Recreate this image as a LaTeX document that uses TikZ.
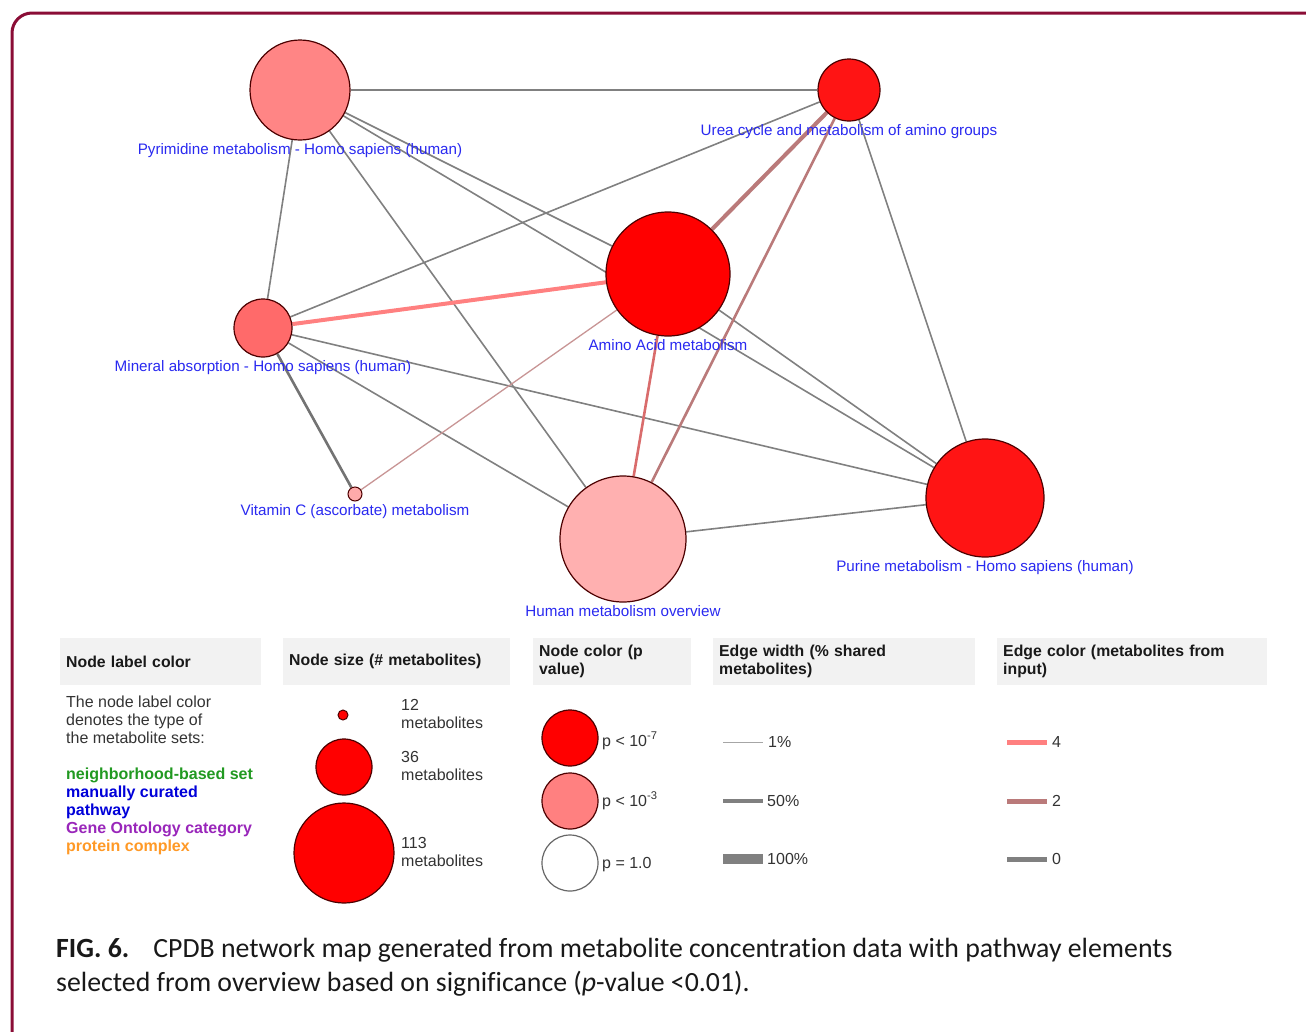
\documentclass[tikz,border=0pt]{standalone}
\usepackage{fontspec}
\setmainfont{Liberation Sans}
\newfontfamily\capfont[Ligatures=NoCommon]{Carlito}
\usetikzlibrary{backgrounds}
\colorlet{ecol}{black!50!white}
\definecolor{colR}{rgb}{1,.5,.5}
\definecolor{colB}{rgb}{.73,.48,.48}
\definecolor{lblcol}{rgb}{.16,.16,.94}
\definecolor{framecol}{rgb}{.54,.05,.21}
\definecolor{hdrcol}{gray}{.95}
\definecolor{txtcol}{gray}{.2}
\definecolor{grn}{rgb}{.13,.6,.13}
\definecolor{prp}{rgb}{.6,.15,.73}
\definecolor{org}{rgb}{1,.6,.15}
\tikzstyle{vertex}=[circle, draw=black!70!red, line width=1.2pt, inner sep=0pt]
\tikzstyle{lbl}=[text=lblcol, font=\fontsize{15.2}{16}\selectfont, inner sep=0pt, yshift=-3pt]
\tikzstyle{edge}=[line width=1.6pt,ecol]
\tikzstyle{redge}=[edge,colR]
\tikzstyle{bedge}=[edge,colB]
\tikzstyle{hdr}=[fill=hdrcol, anchor=north west, minimum height=47pt, inner xsep=6pt, align=left, font=\fontsize{15.8}{18}\selectfont\bfseries, text=black!90]
\tikzstyle{body}=[inner sep=0pt, text=txtcol, font=\fontsize{16}{18}\selectfont]

\begin{document}
\begin{tikzpicture}[x=1pt,y=-1pt]
		\useasboundingbox (0,0) rectangle (1306,1031);
		\draw[framecol, line width=3pt, rounded corners=20pt] (12,1040) -- (12,13) -- (1310,13);
		% network
		\node[vertex, fill={rgb,255:red,255;green,133;blue,133}, minimum size=100pt, label={[lbl]below:Pyrimidine metabolism - Homo sapiens (human)}] (pyr) at (300,90) {};
		\node[vertex, fill={rgb,255:red,255;green,20;blue,20}, minimum size=62pt, label={[lbl]below:Urea cycle and metabolism of amino groups}] (urea) at (849,90) {};
		\node[vertex, fill=red, minimum size=124pt, label={[lbl]below:Amino Acid metabolism}] (aa) at (668,274) {};
		\node[vertex, fill={rgb,255:red,255;green,106;blue,106}, minimum size=58pt, label={[lbl]below:Mineral absorption - Homo sapiens (human)}] (mine) at (263,328) {};
		\node[vertex, fill={rgb,255:red,255;green,170;blue,170}, minimum size=14pt, line width=1pt, label={[lbl]below:Vitamin C (ascorbate) metabolism}] (vitc) at (355,494) {};
		\node[vertex, fill={rgb,255:red,255;green,176;blue,176}, minimum size=126pt, label={[lbl]below:Human metabolism overview}] (hum) at (623,539) {};
		\node[vertex, fill={rgb,255:red,255;green,20;blue,20}, minimum size=118pt, label={[lbl]below:Purine metabolism - Homo sapiens (human)}] (pur) at (985,498) {};
		\begin{pgfonlayer}{background}
		\draw[edge] (pyr)edge(urea) (pyr)edge(mine) (pyr)edge(hum) (pyr)edge(aa) (pyr.center)edge(pur)
		            (urea)edge(mine) (urea)edge(pur) (aa)edge(pur) (mine)edge(hum) (mine)edge(pur) (hum)edge(pur) ;
		\draw[edge, line width=2.6pt, black!55] (mine)--(vitc);
		\draw[redge, line width=4pt] (mine)--(aa);
		\draw[redge, line width=2.6pt, colR!85!black] (aa)--(hum);
		\draw[bedge, line width=4pt] (urea)--(aa);
		\draw[bedge, line width=2.6pt] (urea)--(hum);
		\draw[bedge, line width=1.3pt, colB!80!white] (aa)--(vitc);
		\end{pgfonlayer}
		% legend headers
		\node[hdr, text width=189pt] (h1) at (60,638) {Node label color};
		\node[hdr, text width=215pt] (h2) at (283,638) {Node size (\# metabolites)};
		\node[hdr, text width=146pt] (h3) at (533,638) {Node color (p\\value)};
		\node[hdr, text width=250pt] (h4) at (713,638) {Edge width (\% shared\\metabolites)};
		\node[hdr, text width=258pt] (h5) at (997,638) {Edge color (metabolites from\\input)};
		% label colour
		\node[body, anchor=north west, align=left] (t1) at (66,696) {The node label color\\denotes the type of\\the metabolite sets:\\[18pt]
			{\bfseries\color{grn}neighborhood-based set}\\
			{\bfseries\color{blue!85!black}manually curated}\\
			{\bfseries\color{blue!85!black}pathway}\\
			{\bfseries\color{prp}Gene Ontology category}\\
			{\bfseries\color{org}protein complex}};
		% node size
		\node[vertex, fill=red, minimum size=10pt, line width=1pt] (s1) at (343,715) {};
		\node[vertex, fill=red, minimum size=56pt] (s2) at (344,767) {};
		\node[vertex, fill=red, minimum size=100pt] (s3) at (344,853) {};
		\node[body, anchor=north west, align=left] (s1t) at (401,699) {12\\metabolites};
		\node[body, anchor=north west, align=left] (s2t) at (401,751) {36\\metabolites};
		\node[body, anchor=north west, align=left] (s3t) at (401,837) {113\\metabolites};
		% node colour
		\node[vertex, fill=red, minimum size=56pt] (c1) at (570,738) {};
		\node[vertex, fill=colR, minimum size=56pt] (c2) at (570,801) {};
		\node[vertex, fill=white, draw=black!60, minimum size=56pt] (c3) at (570,863) {};
		\node[body, anchor=base west] (c1t) at (602,746) {p < 10\textsuperscript{-7}};
		\node[body, anchor=base west] (c2t) at (602,806) {p < 10\textsuperscript{-3}};
		\node[body, anchor=base west] (c3t) at (602,868) {p = 1.0};
		% edge width
		\draw[ecol!70, line width=1pt] (723,742) -- (763,742);
		\draw[ecol, line width=4.5pt] (723,801) -- (763,801);
		\draw[ecol, line width=10pt] (723,859) -- (763,859);
		\node[body, anchor=base west] (w1) at (768,747) {1\%};
		\node[body, anchor=base west] (w2) at (767,806) {50\%};
		\node[body, anchor=base west] (w3) at (767,864) {100\%};
		% edge colour
		\draw[colR, line width=5pt] (1007,742) -- (1047,742);
		\draw[colB, line width=5pt] (1007,801) -- (1047,801);
		\draw[ecol, line width=5pt] (1007,859) -- (1047,859);
		\node[body, anchor=base west] (e1) at (1052,747) {4};
		\node[body, anchor=base west] (e2) at (1052,806) {2};
		\node[body, anchor=base west] (e3) at (1052,864) {0};
		% caption
		\node[inner sep=0pt, anchor=base west, font=\capfont\fontsize{27.8}{30}\selectfont, text=black!90] (cap1) at (56,957) {\textbf{FIG. 6.}\hspace{24pt}CPDB network map generated from metabolite concentration data with pathway elements};
		\node[inner sep=0pt, anchor=base west, font=\capfont\fontsize{27.8}{30}\selectfont, text=black!90] (cap2) at (56,991) {selected from overview based on significance (\textit{p}-value <0.01).};
	\end{tikzpicture}
\end{document}
